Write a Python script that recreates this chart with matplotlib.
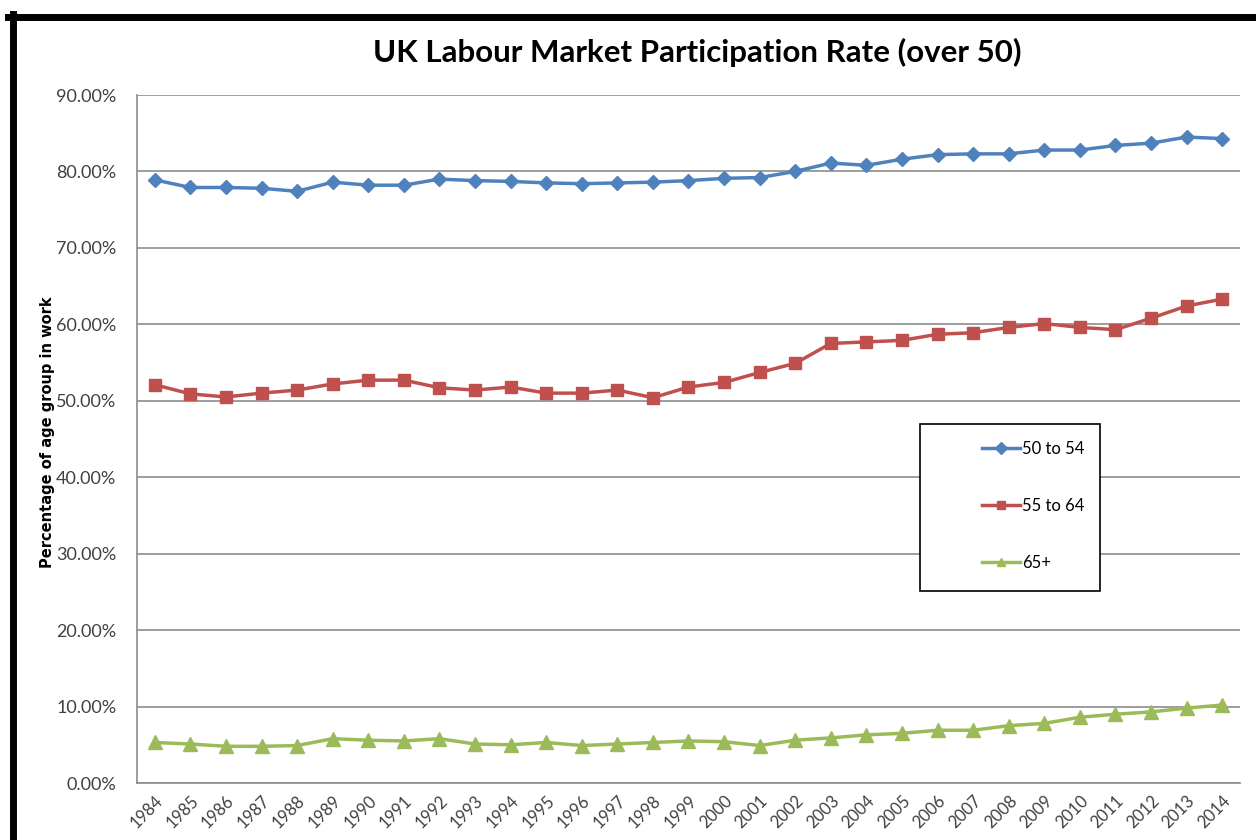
import matplotlib
matplotlib.use("Agg")
import matplotlib.pyplot as plt
from matplotlib.patches import Rectangle
from matplotlib.lines import Line2D
from matplotlib.ticker import FuncFormatter

years = [str(y) for y in range(1984, 2015)]

# participation rate, fraction of age group in work
age_50_54 = [0.789, 0.779, 0.779, 0.778, 0.774, 0.786, 0.782, 0.782, 0.790, 0.788,
             0.787, 0.785, 0.784, 0.785, 0.786, 0.788, 0.791, 0.792, 0.800, 0.811,
             0.808, 0.816, 0.822, 0.823, 0.823, 0.828, 0.828, 0.834, 0.837, 0.845,
             0.843]
age_55_64 = [0.521, 0.509, 0.505, 0.510, 0.514, 0.522, 0.527, 0.527, 0.517, 0.514,
             0.518, 0.510, 0.510, 0.514, 0.504, 0.518, 0.524, 0.537, 0.549, 0.575,
             0.577, 0.579, 0.587, 0.589, 0.596, 0.601, 0.596, 0.593, 0.608, 0.624,
             0.633]
age_65_plus = [0.053, 0.051, 0.048, 0.048, 0.049, 0.058, 0.056, 0.055, 0.058, 0.051,
               0.050, 0.053, 0.049, 0.051, 0.053, 0.055, 0.054, 0.049, 0.056, 0.059,
               0.063, 0.065, 0.069, 0.069, 0.075, 0.078, 0.086, 0.090, 0.093, 0.098,
               0.102]
labels = ["50 to 54", "55 to 64", "65+"]

grid_col = "#8c8c8c"
text_col = "#404040"

fig = plt.figure(figsize=(12.56, 8.4), dpi=100)
ax = fig.add_axes([137 / 1256, 57 / 840, 1103 / 1256, 688 / 840])

x = list(range(len(years)))
ax.plot(x, age_50_54, color="#4F81BD", lw=2.5, marker="D", ms=7, label=labels[0])
ax.plot(x, age_55_64, color="#C0504D", lw=2.5, marker="s", ms=9, label=labels[1])
ax.plot(x, age_65_plus, color="#9BBB59", lw=2.5, marker="^", ms=10, label=labels[2])

ax.set_xlim(-0.5, len(years) - 0.5)
ax.set_ylim(0, 0.9)
ax.set_yticks([i / 10 for i in range(10)])
ax.yaxis.set_major_formatter(FuncFormatter(lambda v, p: f"{v * 100:.2f}%"))
ax.set_xticks(x)
ax.set_xticklabels(years, rotation=45, ha="right", rotation_mode="anchor",
                   fontsize=12, color=text_col, family="Lato")
for t in ax.get_yticklabels():
    t.set_fontsize(13)
    t.set_color(text_col)
    t.set_family("Lato")
ax.tick_params(axis="y", length=0, pad=15)
ax.tick_params(axis="x", length=0, pad=7)

ax.grid(axis="y", color=grid_col, lw=1.2)
ax.set_axisbelow(True)
for s in ["top", "right"]:
    ax.spines[s].set_visible(False)
for s in ["left", "bottom"]:
    ax.spines[s].set_color(grid_col)
    ax.spines[s].set_linewidth(1.2)

ax.set_ylabel("Percentage of age group in work", fontsize=10.5, fontweight="bold",
              family="Liberation Sans Narrow", labelpad=1)
ax.yaxis.set_label_coords(-82 / 1103, 0.51)

# legend box drawn by hand, entries placed inside it
ax.add_patch(Rectangle((783 / 1103, 192 / 688), 180 / 1103, 167 / 688,
                       transform=ax.transAxes, facecolor="white", edgecolor="black",
                       lw=1.2, zorder=5))
leg = ax.legend(loc="center left", bbox_to_anchor=(830 / 1103, 277 / 688),
                frameon=False, labelspacing=2.45, handlelength=2.3,
                handletextpad=0.1, prop={"family": "Lato", "size": 12})
leg.set_zorder(6)
for h in leg.legend_handles:
    h.set_markersize(6)

fig.text(697 / 1256, 1 - 52 / 840, "UK Labour Market Participation Rate (over 50)",
         ha="center", va="center", fontsize=22.5, fontweight="bold", family="Lato")

# black frame at top and left
fig.add_artist(Line2D([8 / 1256, 1], [1 - 17 / 840] * 2, color="black", lw=5,
                      transform=fig.transFigure))
fig.add_artist(Line2D([13 / 1256] * 2, [0, 1 - 14 / 840], color="black", lw=5,
                      transform=fig.transFigure))

fig.savefig("out.png", dpi=100)
